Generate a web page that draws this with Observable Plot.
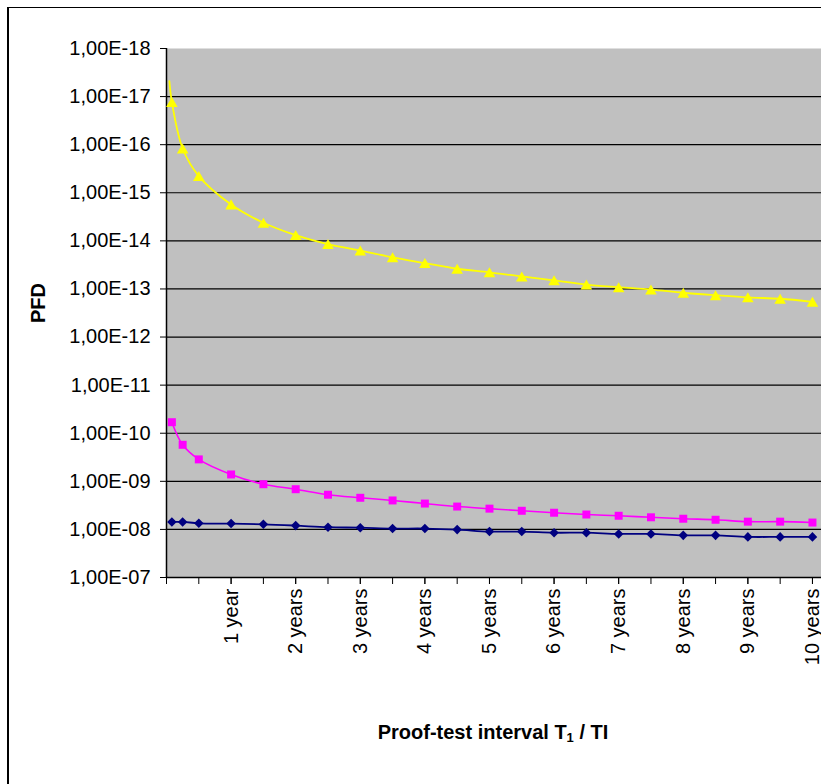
<!DOCTYPE html>
<html>
<head>
<meta charset="utf-8">
<script src="https://cdn.jsdelivr.net/npm/d3@7"></script>
<script src="https://cdn.jsdelivr.net/npm/@observablehq/plot@0.6"></script>
<style>
  html, body { margin: 0; padding: 0; background: #fff; }
  #wrap { position: relative; width: 821px; height: 784px; overflow: hidden; font-family: "Liberation Sans", Arial, sans-serif; }
  #border { position: absolute; left: 7px; top: 7px; width: 900px; height: 900px; border-left: 2px solid #000; border-top: 1px solid #000; box-sizing: border-box; pointer-events: none; }
  #ytitle { position: absolute; left: 38px; top: 303px; transform: translate(-50%, -50%) rotate(-90deg); font-weight: bold; font-size: 20px; white-space: nowrap; color: #000; }
  #xtitle { position: absolute; left: 493px; top: 720px; transform: translateX(-50%); font-weight: bold; font-size: 20px; white-space: nowrap; color: #000; line-height: 24px; }
  #xtitle sub { font-size: 13px; vertical-align: -3px; line-height: 0; }
  #chart { position: absolute; left: 0; top: 0; }
</style>
</head>
<body>
<div id="wrap">
  <div id="chart"></div>
  <div id="border"></div>
  <div id="ytitle">PFD</div>
  <div id="xtitle">Proof-test interval T<sub>1</sub> / TI</div>
</div>
<script>
// Proof-test interval in years (1 month, 3 months, 6 months, then every half year)
const years = [1/12, 0.25, 0.5, 1, 1.5, 2, 2.5, 3, 3.5, 4, 4.5, 5, 5.5, 6, 6.5, 7, 7.5, 8, 8.5, 9, 9.5, 10];

// PFD series
const pfdYellow = [1.3e-17, 1.2e-16, 4.5e-16, 1.75e-15, 4.2e-15, 7.6e-15, 1.17e-14, 1.6e-14, 2.2e-14, 2.9e-14, 3.8e-14,
                   4.5e-14, 5.5e-14, 6.6e-14, 8.1e-14, 9.2e-14, 1.03e-13, 1.2e-13, 1.35e-13, 1.5e-13, 1.6e-13, 1.85e-13];
const pfdMagenta = [5.9e-11, 1.74e-10, 3.5e-10, 7.2e-10, 1.15e-9, 1.46e-9, 1.9e-9, 2.2e-9, 2.5e-9, 2.9e-9, 3.35e-9,
                    3.7e-9, 4.1e-9, 4.5e-9, 4.9e-9, 5.2e-9, 5.6e-9, 6.0e-9, 6.3e-9, 6.9e-9, 6.9e-9, 7.2e-9];
const pfdNavy = [6.98e-9, 6.98e-9, 7.46e-9, 7.57e-9, 7.83e-9, 8.34e-9, 9.0e-9, 9.2e-9, 9.6e-9, 9.6e-9, 1.01e-8,
                 1.11e-8, 1.11e-8, 1.17e-8, 1.17e-8, 1.24e-8, 1.24e-8, 1.33e-8, 1.33e-8, 1.43e-8, 1.43e-8, 1.43e-8];

// yellow smoothed line begins slightly before its first marker
const yellowLeadYear = [0.045];
const yellowLeadPfd = [4.8e-18];

// axis ticks
const yTicks = [1e-18, 1e-17, 1e-16, 1e-15, 1e-14, 1e-13, 1e-12, 1e-11, 1e-10, 1e-9, 1e-8, 1e-7];
const gridTicks = [1e-17, 1e-16, 1e-15, 1e-14, 1e-13, 1e-12, 1e-11, 1e-10, 1e-9, 1e-8];
const halfYearTicks = [0, 0.5, 1, 1.5, 2, 2.5, 3, 3.5, 4, 4.5, 5, 5.5, 6, 6.5, 7, 7.5, 8, 8.5, 9, 9.5, 10];
const yearTicks = [1, 2, 3, 4, 5, 6, 7, 8, 9, 10];
const yearLabels = ["1 year", "2 years", "3 years", "4 years", "5 years", "6 years", "7 years", "8 years", "9 years", "10 years"];

const toRows = (xs, ys) => xs.map((x, i) => ({year: x, pfd: ys[i]}));
const yellowRows = toRows(years, pfdYellow);
const yellowLineRows = toRows(yellowLeadYear, yellowLeadPfd).concat(yellowRows);
const magentaRows = toRows(years, pfdMagenta);
const navyRows = toRows(years, pfdNavy);

const fmtY = d => {
  const e = Math.round(Math.log10(d));
  return "1,00E" + (e < 0 ? "-" : "+") + String(Math.abs(e)).padStart(2, "0");
};

const chart = Plot.plot({
  width: 821,
  height: 784,
  marginLeft: 166,
  marginRight: 0,
  marginTop: 48,
  marginBottom: 207,
  style: {fontFamily: "'Liberation Sans', Arial, sans-serif", fontSize: "20px", background: "transparent", color: "#000"},
  x: {domain: [0, 10.14], axis: null},
  y: {type: "log", domain: [1e-18, 1e-7], reverse: true, axis: null},
  marks: [
    Plot.frame({fill: "#c0c0c0", stroke: null}),
    Plot.ruleY(gridTicks, {stroke: "#000", strokeWidth: 1.2}),
    Plot.ruleY([1e-7], {stroke: "#000", strokeWidth: 1.5}),
    Plot.ruleX([0], {stroke: "#000", strokeWidth: 1.5}),
    Plot.axisY({ticks: yTicks, tickFormat: fmtY, tickSize: 6, tickPadding: 10, fontSize: 20, label: null, stroke: "#000"}),
    Plot.axisX({ticks: halfYearTicks, tickFormat: () => "", tickSize: 7, label: null, stroke: "#000"}),
    Plot.axisX({ticks: yearTicks, tickFormat: d => yearLabels[yearTicks.indexOf(d)], tickRotate: -90, tickSize: 7, tickPadding: 4, fontSize: 20, label: null, stroke: "#000"}),
    Plot.line(navyRows, {x: "year", y: "pfd", stroke: "#000080", strokeWidth: 1.8, curve: "catmull-rom"}),
    Plot.line(magentaRows, {x: "year", y: "pfd", stroke: "#ff00ff", strokeWidth: 1.6, curve: "catmull-rom"}),
    Plot.line(yellowLineRows, {x: "year", y: "pfd", stroke: "#ffff00", strokeWidth: 1.8, curve: "catmull-rom"}),
    Plot.dot(navyRows, {x: "year", y: "pfd", symbol: "diamond2", r: 4.3, fill: "#000080", stroke: null}),
    Plot.dot(magentaRows, {x: "year", y: "pfd", symbol: "square", r: 4.5, fill: "#ff00ff", stroke: null}),
    Plot.dot(yellowRows, {x: "year", y: "pfd", symbol: "triangle", r: 4.3, fill: "#ffff00", stroke: null, dy: 1.6})
  ]
});
document.getElementById("chart").appendChild(chart);
</script>
</body>
</html>
